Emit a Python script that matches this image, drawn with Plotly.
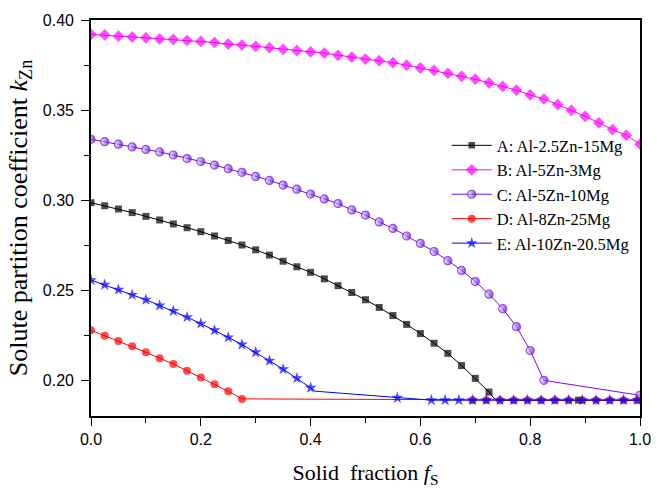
import plotly.graph_objects as go

# ---------------- data ----------------
FS_GRID = [0.0, 0.025, 0.05, 0.075, 0.1, 0.125, 0.15, 0.175, 0.2, 0.225,
           0.25, 0.275, 0.3, 0.325, 0.35, 0.375, 0.4, 0.425, 0.45, 0.475,
           0.5, 0.525, 0.55, 0.575, 0.6, 0.625, 0.65, 0.675, 0.7, 0.725,
           0.75, 0.775, 0.8, 0.825, 0.85, 0.875, 0.9, 0.925, 0.95, 0.975, 1.0]
FS_TAIL = [0.62, 0.645, 0.67, 0.695, 0.72, 0.745, 0.77, 0.795, 0.82, 0.845,
           0.87, 0.895, 0.92, 0.945, 0.97, 0.995]

names = ["A: Al-2.5Zn-15Mg", "B: Al-5Zn-3Mg", "C: Al-5Zn-10Mg",
         "D: Al-8Zn-25Mg", "E: Al-10Zn-20.5Mg"]

A_x = FS_GRID[:30] + [0.737, 0.888, 1.0]
A_y = [0.2985, 0.2968, 0.2950, 0.2930, 0.2909, 0.2889, 0.2867, 0.2846, 0.2824, 0.2800,
       0.2775, 0.2750, 0.2723, 0.2694, 0.2660, 0.2629, 0.2598, 0.2562, 0.2524, 0.2486,
       0.2446, 0.2403, 0.2358, 0.2309, 0.2258, 0.2204, 0.2148, 0.2080, 0.2009, 0.1933,
       0.1888, 0.1888, 0.1888]
A_unmarked = [0.737, 1.0]

B_x = FS_GRID
B_y = [0.3920, 0.3917, 0.3910, 0.3906, 0.3901, 0.3895, 0.3892, 0.3886, 0.3881, 0.3875,
       0.3866, 0.3861, 0.3854, 0.3846, 0.3837, 0.3830, 0.3823, 0.3816, 0.3803, 0.3794,
       0.3783, 0.3774, 0.3763, 0.3749, 0.3734, 0.3720, 0.3704, 0.3687, 0.3671, 0.3651,
       0.3631, 0.3610, 0.3584, 0.3561, 0.3530, 0.3498, 0.3465, 0.3429, 0.3391, 0.3360,
       0.3310]
B_unmarked = []

C_x = FS_GRID[:34] + [1.0]
C_y = [0.3337, 0.3324, 0.3310, 0.3295, 0.3281, 0.3267, 0.3250, 0.3230, 0.3214, 0.3194,
       0.3174, 0.3154, 0.3131, 0.3109, 0.3083, 0.3060, 0.3033, 0.3006, 0.2980, 0.2945,
       0.2916, 0.2878, 0.2842, 0.2800, 0.2759, 0.2714, 0.2663, 0.2609, 0.2547, 0.2477,
       0.2396, 0.2296, 0.2164, 0.1998, 0.1915]
C_unmarked = []

D_x = FS_GRID[:12] + FS_TAIL[3:]
D_y = [0.2276, 0.2246, 0.2217, 0.2188, 0.2154, 0.2121, 0.2089, 0.2051, 0.2014, 0.1977,
       0.1937, 0.1895] + [0.1888] * 13
D_unmarked = []

E_x = FS_GRID[:17] + [0.408, 0.558] + FS_TAIL
E_y = [0.2555, 0.2529, 0.2502, 0.2473, 0.2446, 0.2414, 0.2383, 0.2349, 0.2313, 0.2276,
       0.2237, 0.2197, 0.2154, 0.2107, 0.2060, 0.2010, 0.1957, 0.1938, 0.1901] + [0.1888] * 16
E_unmarked = [0.408]

x_ticks = [0.0, 0.2, 0.4, 0.6, 0.8, 1.0]
y_ticks = [0.20, 0.25, 0.30, 0.35, 0.40]

# ---------------- styling ----------------
styles = [
    dict(color="#000000", symbol="square", size=7),
    dict(color="#FF00FF", symbol="diamond", size=9),
    dict(color="#7F00FF", symbol="circle", size=8),
    dict(color="#FF0000", symbol="circle", size=8),
    dict(color="#0000FF", symbol="star", size=9),
]
series = [(A_x, A_y, A_unmarked), (B_x, B_y, B_unmarked), (C_x, C_y, C_unmarked),
          (D_x, D_y, D_unmarked), (E_x, E_y, E_unmarked)]

fig = go.Figure()
for (xs, ys, unm), st, nm in zip(series, styles, names):
    sizes = [0 if x in unm else st["size"] for x in xs]
    marker = dict(symbol=st["symbol"], color=st["color"], size=sizes,
                  line=dict(width=0))
    if nm.startswith("C"):
        marker = dict(symbol="circle", color="#FFFFFF", size=sizes,
                      gradient=dict(type="horizontal", color="#4A00C8"),
                      line=dict(width=1.2, color="#6A00E8"))
    fig.add_trace(go.Scatter(x=xs, y=ys, mode="lines+markers", name=nm,
                             line=dict(color=st["color"], width=1),
                             marker=marker))

axis_common = dict(showline=True, linecolor="black", linewidth=1.6, mirror=True,
                   ticks="outside", ticklen=8, tickwidth=1.4, tickcolor="black",
                   showgrid=False, zeroline=False,
                   tickfont=dict(family="Liberation Sans", size=16, color="black"))

fig.update_layout(
    width=664, height=493,
    margin=dict(l=91, r=24, t=12, b=75),
    paper_bgcolor="white", plot_bgcolor="white",
    showlegend=True,
    legend=dict(x=0.648, y=0.727, xanchor="left", yanchor="top",
                bgcolor="rgba(0,0,0,0)", borderwidth=0,
                font=dict(family="Liberation Serif", size=16.5, color="black"),
                tracegroupgap=0, itemwidth=40),
    xaxis=dict(range=[0, 1.0], tickvals=x_ticks, ticktext=["%.1f" % v for v in x_ticks],
               minor=dict(dtick=0.1, ticks="outside", ticklen=5, tickwidth=1.2, tickcolor="black"),
               title=dict(text="Solid&#160; fraction <i>f</i><sub>S</sub>", standoff=18,
                          font=dict(family="Liberation Serif", size=22, color="black")),
               **axis_common),
    yaxis=dict(range=[0.18, 0.40], tickvals=y_ticks, ticktext=["%.2f" % v for v in y_ticks],
               ticklabelstandoff=4,
               minor=dict(dtick=0.025, ticks="outside", ticklen=5, tickwidth=1.2, tickcolor="black"),
               title=dict(text="Solute partition coefficient <i>k</i><sub>Zn</sub>",
                          standoff=8,
                          font=dict(family="Liberation Serif", size=26, color="black")),
               **axis_common),
)

fig.write_html("out.html")
